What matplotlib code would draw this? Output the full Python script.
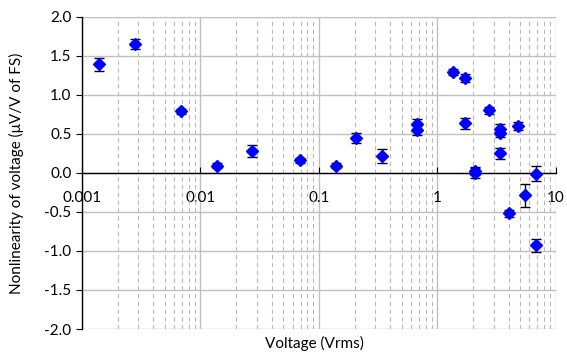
import numpy as np
import matplotlib.pyplot as plt
from matplotlib.ticker import LogLocator, NullFormatter, FixedLocator

plt.rcParams['font.family'] = ['Lato', 'DejaVu Sans']

# 測定点 (電圧 Vrms, 非直線性 μV/V of FS, 不確かさ)
voltage = [0.00139, 0.00278, 0.00692, 0.0138, 0.0274, 0.0695,
           0.139, 0.2075, 0.343, 0.68, 0.68,
           1.37, 1.71, 1.71, 2.07, 2.07, 2.73,
           3.40, 3.40, 3.40, 4.06, 4.81, 5.51, 6.81, 6.81]
nonlin = [1.39, 1.65, 0.79, 0.093, 0.28, 0.16,
          0.093, 0.45, 0.22, 0.62, 0.545,
          1.29, 1.21, 0.635, 0.02, 0.0, 0.80,
          0.56, 0.515, 0.25, -0.52, 0.605, -0.29, -0.01, -0.93]
err = [0.08, 0.064, 0.03, 0.03, 0.08, 0.03,
       0.03, 0.064, 0.09, 0.064, 0.06,
       0.04, 0.05, 0.07, 0.05, 0.06, 0.04,
       0.07, 0.06, 0.07, 0.04, 0.05, 0.145, 0.1, 0.08]

yticks = [-2.0, -1.5, -1.0, -0.5, 0.0, 0.5, 1.0, 1.5, 2.0]
xticks = [0.001, 0.01, 0.1, 1, 10]
xticklabels = ['0.001', '0.01', '0.1', '1', '10']

fig = plt.figure(figsize=(5.67, 3.56), dpi=100)
ax = fig.add_axes([0.1446, 0.0758, 0.8355, 0.8773])

ax.errorbar(voltage, nonlin, yerr=err, fmt='D', color='#0000ff',
            markersize=6, ecolor='black', elinewidth=1, capsize=3.5,
            capthick=1, zorder=3)

ax.set_xscale('log')
ax.set_xlim(0.001, 10)
ax.set_ylim(-2.0, 2.0)

ax.xaxis.set_major_locator(FixedLocator(xticks))
ax.set_xticklabels(xticklabels)
ax.xaxis.set_minor_locator(LogLocator(base=10, subs=np.arange(2, 10), numticks=20))
ax.xaxis.set_minor_formatter(NullFormatter())
ax.set_yticks(yticks)
ax.set_yticklabels(['%.1f' % v for v in yticks])

# グリッド
ax.grid(True, which='major', axis='both', color='#c0c0c0', linewidth=1, linestyle='-', zorder=0)
ax.grid(True, which='minor', axis='x', color='#b8b8b8', linewidth=0.8, linestyle=(0, (4, 3)), zorder=0)
ax.set_axisbelow(True)

# x軸を y=0 に置く
ax.spines['bottom'].set_position(('data', 0))
ax.spines['top'].set_visible(False)
ax.spines['right'].set_visible(False)
for s in ['left', 'bottom']:
    ax.spines[s].set_color('black')
    ax.spines[s].set_linewidth(1)

ax.tick_params(axis='x', which='major', direction='in', length=4, pad=13,
               labelsize=11, color='black')
ax.tick_params(axis='x', which='minor', length=0)
ax.tick_params(axis='y', direction='out', length=4, labelsize=11, color='black')

fig.text(0.5546, 1 - 343 / 356, 'Voltage (Vrms)', fontsize=11, ha='center', va='center')
ax.set_ylabel('Nonlinearity of voltage (μV/V of FS)', fontsize=11)
ax.yaxis.set_label_coords(-0.122, 0.5)

plt.savefig('out.png', dpi=100)
